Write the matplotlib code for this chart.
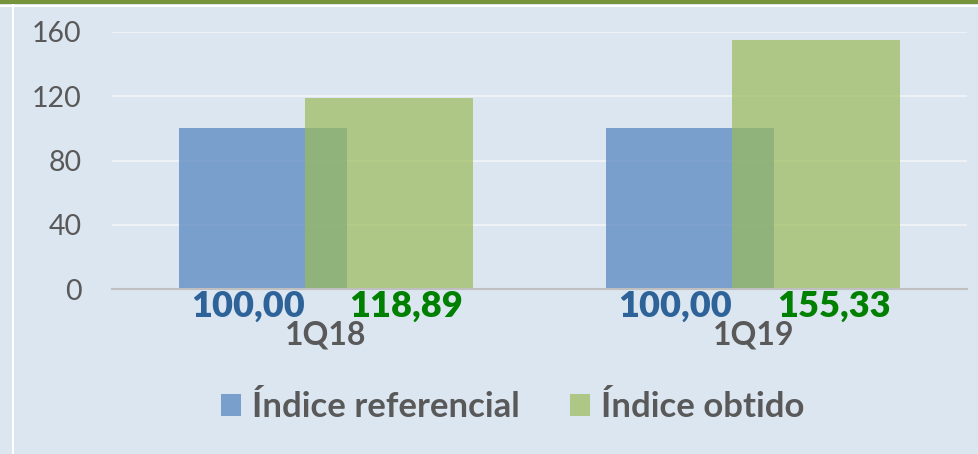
import matplotlib.pyplot as plt
from matplotlib.patches import Rectangle
import numpy as np

categorias = ['1Q18', '1Q19']
referencial = [100.00, 100.00]
obtido = [118.89, 155.33]
nomes = ['Índice referencial', 'Índice obtido']
y_ticks = [0, 40, 80, 120, 160]

fundo = '#dce6f1'
azul = '#4f81bd'
verde = '#9bbb59'
cinza = '#595959'

plt.rcParams['font.family'] = ['Lato', 'DejaVu Sans']

fig = plt.figure(figsize=(9.79, 4.54), dpi=100, facecolor=fundo)

# moldura: faixa verde no topo e linhas brancas
fig.patches.append(Rectangle((0, 1 - 4 / 454), 1, 4 / 454, transform=fig.transFigure,
                             facecolor='#77933c', edgecolor='none'))
fig.patches.append(Rectangle((0, 1 - 7 / 454), 1, 2.5 / 454, transform=fig.transFigure,
                             facecolor='white', edgecolor='none'))
fig.patches.append(Rectangle((12 / 979, 0), 2 / 979, 1 - 4 / 454, transform=fig.transFigure,
                             facecolor='white', edgecolor='none'))

ax = fig.add_axes([112 / 979, 1 - 289 / 454, 855 / 979, 257 / 454])
ax.set_facecolor(fundo)

x = np.arange(len(categorias))
larg = 0.393
desl = 0.147
b1 = ax.bar(x - desl, referencial, larg, color=azul, alpha=0.7, zorder=3, label=nomes[0])
b2 = ax.bar(x + desl, obtido, larg, color=verde, alpha=0.7, zorder=4, label=nomes[1])

ax.set_xlim(-0.5, 1.5)
ax.set_ylim(0, 160)
ax.set_yticks(y_ticks)
ax.yaxis.grid(True, color='#eef1f5', linewidth=1.5, zorder=0)
ax.set_axisbelow(True)
for s in ['top', 'right', 'left']:
    ax.spines[s].set_visible(False)
ax.spines['bottom'].set_color('#bfbfbf')
ax.spines['bottom'].set_linewidth(1.5)
ax.spines['bottom'].set_zorder(5)
ax.tick_params(axis='y', length=0, pad=22, labelsize=20.5, labelcolor=cinza)
ax.set_xticks([])

# rótulos de dados abaixo do eixo
for i in range(len(categorias)):
    ax.annotate(f'{referencial[i]:.2f}'.replace('.', ','), (x[i] - 0.182, 0),
                xycoords=('data', 'axes fraction'), xytext=(0, -12.5),
                textcoords='offset points', ha='center', va='center',
                fontsize=26, fontweight='heavy', color='#2e6399')
    ax.annotate(f'{obtido[i]:.2f}'.replace('.', ','), (x[i] + 0.188, 0),
                xycoords=('data', 'axes fraction'), xytext=(0, -12.5),
                textcoords='offset points', ha='center', va='center',
                fontsize=26, fontweight='heavy', color='#008000')
    ax.annotate(categorias[i], (x[i], 0),
                xycoords=('data', 'axes fraction'), xytext=(0, -33),
                textcoords='offset points', ha='center', va='center',
                fontsize=23, fontweight='bold', color=cinza)

leg = fig.legend(handles=[b1, b2], labels=nomes, loc='center',
                 bbox_to_anchor=(513 / 979, 1 - 407 / 454), ncol=2, frameon=False,
                 prop={'size': 25, 'weight': 'bold'}, handlelength=0.58, handleheight=0.6,
                 handletextpad=0.32, columnspacing=1.44, labelcolor=cinza)

fig.savefig('out.png', dpi=100, facecolor=fundo)
